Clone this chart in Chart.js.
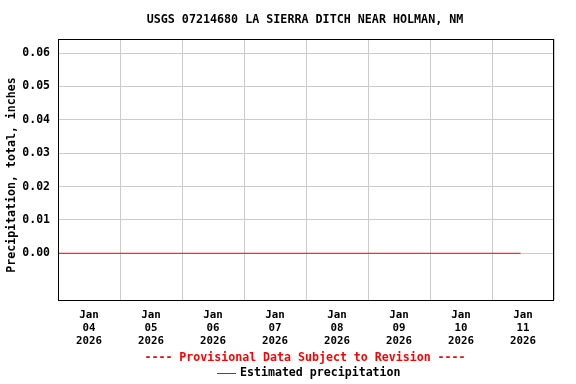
<!DOCTYPE html>
<html lang="en">
<head>
  <meta charset="UTF-8">
  <title>USGS 07214680</title>
  <script src="https://cdn.jsdelivr.net/npm/chart.js"></script>
  <style>
    html, body { margin: 0; padding: 0; background: #fff; }
  </style>
</head>
<body>
  <canvas id="chart" width="576" height="384"></canvas>
  <script>
    const chartTitle = 'USGS 07214680 LA SIERRA DITCH NEAR HOLMAN, NM';
    const yTitle = 'Precipitation, total, inches';
    const noteText = '---- Provisional Data Subject to Revision ----';
    const seriesName = 'Estimated precipitation';

    // one label per day, centred between the day gridlines
    const dayLabels = [
      ['Jan', '04', '2026'], ['Jan', '05', '2026'], ['Jan', '06', '2026'], ['Jan', '07', '2026'],
      ['Jan', '08', '2026'], ['Jan', '09', '2026'], ['Jan', '10', '2026'], ['Jan', '11', '2026']
    ];
    const yTicks = [0.00, 0.01, 0.02, 0.03, 0.04, 0.05, 0.06];

    // x in label units (0 = Jan 04), value in inches
    const precipX = [-0.5, 0, 1, 2, 3, 4, 5, 6, 6.96];
    const precipY = [0, 0, 0, 0, 0, 0, 0, 0, 0];

    const FONT = '"DejaVu Sans Mono", "Liberation Mono", monospace';
    const RED = '#ff0000';

    const decor = {
      id: 'decor',
      afterDraw(chart) {
        const ctx = chart.ctx;
        const a = chart.chartArea;
        ctx.save();
        // frame
        ctx.strokeStyle = '#000';
        ctx.lineWidth = 1;
        ctx.strokeRect(Math.round(a.left) + 0.5, Math.round(a.top) + 0.5,
          Math.round(a.right - a.left) - 1, Math.round(a.bottom - a.top));

        ctx.fillStyle = '#000';
        ctx.textAlign = 'center';
        ctx.textBaseline = 'middle';
        ctx.font = 'bold 11.7px ' + FONT;
        ctx.fillText(chartTitle, 305, 20);

        ctx.save();
        ctx.translate(12, 175);
        ctx.rotate(-Math.PI / 2);
        ctx.font = 'bold 11.6px ' + FONT;
        ctx.fillText(yTitle, 0, 0);
        ctx.restore();

        ctx.font = 'bold 11.6px ' + FONT;
        ctx.fillStyle = RED;
        ctx.fillText(noteText, 305, 358);

        ctx.strokeStyle = RED;
        ctx.beginPath();
        ctx.moveTo(217, 373.5);
        ctx.lineTo(236, 373.5);
        ctx.stroke();
        ctx.fillStyle = '#000';
        ctx.textAlign = 'left';
        ctx.fillText(seriesName, 240, 373);
        ctx.restore();
      }
    };

    new Chart(document.getElementById('chart').getContext('2d'), {
      type: 'line',
      data: {
        labels: dayLabels,
        datasets: [{
          label: seriesName,
          data: precipX.map((x, i) => ({ x: x, y: precipY[i] })),
          xAxisID: 'xd',
          borderColor: RED,
          borderWidth: 1,
          pointRadius: 0,
          fill: false,
          tension: 0
        }]
      },
      options: {
        responsive: false,
        animation: false,
        layout: { padding: { top: 39, right: 22, left: 0, bottom: 0 } },
        plugins: {
          legend: { display: false },
          title: { display: false },
          tooltip: { enabled: false }
        },
        scales: {
          x: {
            type: 'category',
            offset: true,
            grid: { offset: true, color: '#cccccc', lineWidth: 1, drawTicks: false },
            border: { display: false },
            ticks: {
              color: '#000',
              padding: 9,
              maxRotation: 0,
              autoSkip: false,
              font: { family: FONT, size: 10.8, weight: 'bold', lineHeight: 1.2 }
            },
            afterFit(scale) { scale.height = 84; }
          },
          xd: {
            type: 'linear',
            display: false,
            min: -0.5,
            max: 7.5
          },
          y: {
            type: 'linear',
            min: -0.014,
            max: 0.0642,
            afterBuildTicks(scale) { scale.ticks = yTicks.map(v => ({ value: v })); },
            grid: { color: '#cccccc', lineWidth: 1, drawTicks: false },
            border: { display: false },
            ticks: {
              color: '#000',
              padding: 8,
              font: { family: FONT, size: 11.5, weight: 'bold' },
              callback: v => v.toFixed(2)
            },
            afterFit(scale) { scale.width = 58; }
          }
        }
      },
      plugins: [decor]
    });
  </script>
</body>
</html>
